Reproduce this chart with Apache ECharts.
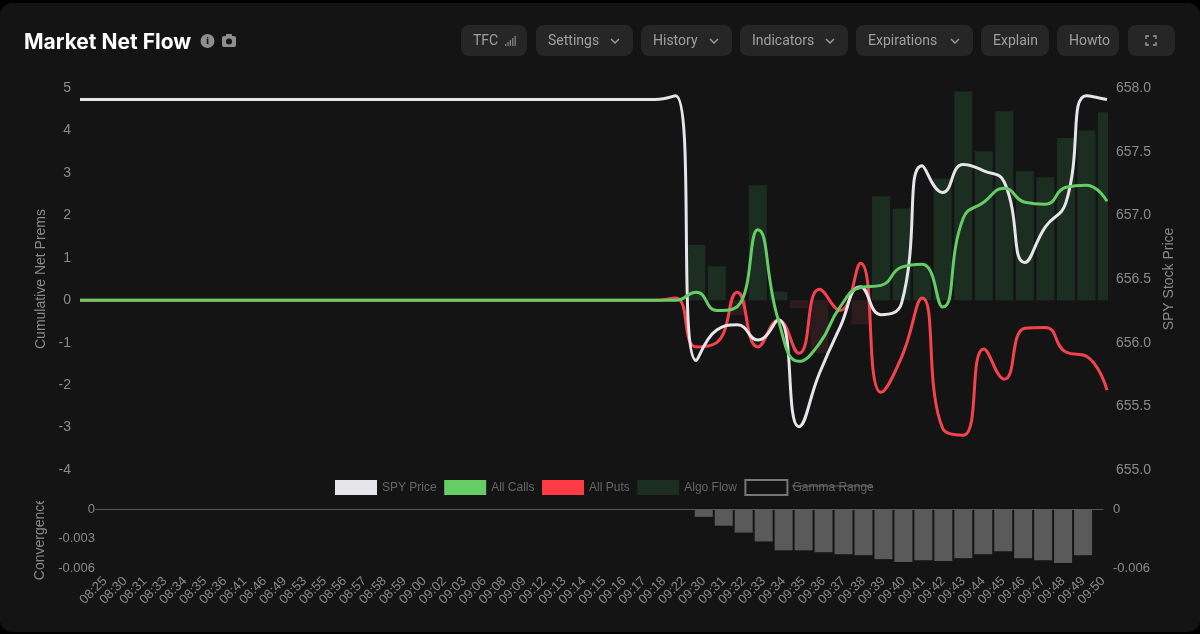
<!DOCTYPE html>
<html>
<head>
<meta charset="utf-8">
<title>Market Net Flow</title>
<script src="https://cdn.jsdelivr.net/npm/echarts@6/dist/echarts.min.js"></script>
<style>
  html, body { margin: 0; padding: 0; background: #000; }
  #card { position: absolute; left: 0; top: 3px; width: 1200px; height: 629px; background: #141414; border-radius: 12px; }
  #chart { position: absolute; left: 0; top: 0; width: 1200px; height: 634px; }
</style>
</head>
<body>
<div id="card"></div>
<div id="chart"></div>
<script>
var times = ['08:25', '08:30', '08:31', '08:33', '08:34', '08:35', '08:36', '08:41', '08:46', '08:49',
  '08:53', '08:55', '08:56', '08:57', '08:58', '08:59', '09:00', '09:02', '09:03', '09:06',
  '09:08', '09:09', '09:12', '09:13', '09:14', '09:15', '09:16', '09:17', '09:18', '09:22',
  '09:30', '09:31', '09:32', '09:33', '09:34', '09:35', '09:36', '09:37', '09:38', '09:39',
  '09:40', '09:41', '09:42', '09:43', '09:44', '09:45', '09:46', '09:47', '09:48', '09:49', '09:50'];

var spyPrice = [657.91, 657.91, 657.91, 657.91, 657.91, 657.91, 657.91, 657.91, 657.91, 657.91,
  657.91, 657.91, 657.91, 657.91, 657.91, 657.91, 657.91, 657.91, 657.91, 657.91,
  657.91, 657.91, 657.91, 657.91, 657.91, 657.91, 657.91, 657.91, 657.91, 657.94,
  655.86, 656.1, 656.14, 656.02, 656.18, 655.34, 655.76, 656.12, 656.44, 656.22,
  656.31, 657.39, 657.18, 657.40, 657.35, 657.26, 656.63, 656.91, 657.10, 657.94, 657.91];

var allCalls = [0, 0, 0, 0, 0, 0, 0, 0, 0, 0,
  0, 0, 0, 0, 0, 0, 0, 0, 0, 0,
  0, 0, 0, 0, 0, 0, 0, 0, 0, 0,
  0.19, -0.24, -0.15, 1.66, -0.47, -1.44, -1.02, -0.16, 0.3, 0.35,
  0.78, 0.85, -0.16, 1.93, 2.31, 2.64, 2.31, 2.26, 2.66, 2.71, 2.33];

var allPuts = [0, 0, 0, 0, 0, 0, 0, 0, 0, 0,
  0, 0, 0, 0, 0, 0, 0, 0, 0, 0,
  0, 0, 0, 0, 0, 0, 0, 0, 0, 0.05,
  -1.1, -1.0, 0.19, -1.1, -0.47, -1.25, 0.26, -0.24, 0.87, -2.17,
  -1.34, 0.05, -3.02, -3.18, -1.15, -1.86, -0.66, -0.64, -1.22, -1.32, -2.12];

var algoFlow = [0, 0, 0, 0, 0, 0, 0, 0, 0, 0,
  0, 0, 0, 0, 0, 0, 0, 0, 0, 0,
  0, 0, 0, 0, 0, 0, 0, 0, 0, 0,
  1.3, 0.8, -0.35, 2.71, 0.2, -0.19, -1.25, 0, -0.57, 2.45,
  2.16, 0.8, 2.87, 4.92, 3.51, 4.45, 3.04, 2.9, 3.82, 4.0, 4.43];

var convergence = [null, null, null, null, null, null, null, null, null, null,
  null, null, null, null, null, null, null, null, null, null,
  null, null, null, null, null, null, null, null, null, null,
  -0.0008, -0.0017, -0.0024, -0.0033, -0.0042, -0.0042, -0.0044, -0.0046, -0.0047, -0.0051,
  -0.0054, -0.0052, -0.0053, -0.005, -0.0046, -0.0043, -0.005, -0.0052, -0.0055, -0.0047, null];

var buttons = [
  { label: 'TFC', x: 461, w: 66 },
  { label: 'Settings', x: 536, w: 97, chevron: true },
  { label: 'History', x: 641, w: 91, chevron: true },
  { label: 'Indicators', x: 740, w: 108, chevron: true },
  { label: 'Expirations', x: 856, w: 117, chevron: true },
  { label: 'Explain', x: 981, w: 68 },
  { label: 'Howto', x: 1057, w: 62 }
];

var labelColor = '#8a8a8a';
var cardColor = '#141414';
var fontFamily = '"Liberation Sans", Arial, sans-serif';

function toolbar() {
  var items = [];
  buttons.forEach(function (b) {
    items.push({ type: 'rect', shape: { x: b.x, y: 25, width: b.w, height: 31, r: 8 }, style: { fill: '#262626' } });
    items.push({
      type: 'text', x: b.x + 12, y: 41.5,
      style: { text: b.label, fill: '#a0a0a0', font: '14px Roboto', verticalAlign: 'middle' }
    });
    if (b.chevron) {
      var cx = b.x + b.w - 18;
      items.push({
        type: 'polyline', shape: { points: [[cx - 4, 39], [cx, 43], [cx + 4, 39]] },
        style: { stroke: '#a0a0a0', lineWidth: 1.4, fill: null }
      });
    }
  });
  // full screen button
  items.push({ type: 'rect', shape: { x: 1128, y: 25, width: 47, height: 31, r: 8 }, style: { fill: '#262626' } });
  [[1146, 39, 1146, 36, 1149, 36], [1153, 36, 1156, 36, 1156, 39], [1156, 42, 1156, 45, 1153, 45], [1149, 45, 1146, 45, 1146, 42]].forEach(function (p) {
    items.push({
      type: 'polyline', shape: { points: [[p[0], p[1]], [p[2], p[3]], [p[4], p[5]]] },
      style: { stroke: '#a0a0a0', lineWidth: 1.3, fill: null }
    });
  });
  // TFC signal bars
  [2, 4, 6, 8, 10].forEach(function (h, i) {
    items.push({ type: 'rect', shape: { x: 505 + i * 2.4, y: 46 - h, width: 1.2, height: h }, style: { fill: '#8a8a8a' } });
  });
  // info + camera icons next to title
  items.push({ type: 'circle', shape: { cx: 207.5, cy: 41, r: 7 }, style: { fill: '#8e8e8e' } });
  items.push({
    type: 'text', x: 207.5, y: 41.5,
    style: { text: 'i', fill: '#141414', font: 'bold 11px "Liberation Serif"', align: 'center', verticalAlign: 'middle' }
  });
  items.push({ type: 'rect', shape: { x: 222, y: 36, width: 14, height: 11, r: 2 }, style: { fill: '#8e8e8e' } });
  items.push({ type: 'rect', shape: { x: 226, y: 34, width: 6, height: 3, r: 1 }, style: { fill: '#8e8e8e' } });
  items.push({ type: 'circle', shape: { cx: 229, cy: 41.5, r: 3 }, style: { fill: '#141414' } });
  // zero tick of the convergence axis
  items.push({ type: 'line', shape: { x1: 95, y1: 509.5, x2: 105, y2: 509.5 }, style: { stroke: '#555', lineWidth: 1 } });
  // struck through legend label
  items.push({ type: 'line', shape: { x1: 792, y1: 486, x2: 873, y2: 486 }, style: { stroke: '#6a6a6a', lineWidth: 1 } });
  // last bar is cut at the grid edge, the name of the lower axis at the top
  items.push({ type: 'rect', z: 100, shape: { x: 1108, y: 88, width: 8, height: 213 }, style: { fill: cardColor } });
  items.push({ type: 'rect', z: 100, shape: { x: 30, y: 488, width: 20, height: 13 }, style: { fill: cardColor } });
  return items;
}

var chart = echarts.init(document.getElementById('chart'), null, { width: 1200, height: 634 });

var option = {
  backgroundColor: 'transparent',
  animation: false,
  textStyle: { fontFamily: fontFamily },
  title: {
    text: 'Market Net Flow',
    left: 19,
    top: 27,
    textStyle: { color: '#fff', fontFamily: 'Inter', fontWeight: 700, fontSize: 21 }
  },
  graphic: toolbar(),
  legend: {
    left: 330,
    top: 474,
    itemWidth: 42,
    itemHeight: 15,
    itemGap: 7.5,
    textStyle: { color: '#666', fontSize: 12 },
    data: [
      { name: 'SPY Price', icon: 'rect', itemStyle: { color: '#e5e5ea' } },
      { name: 'All Calls', icon: 'rect', itemStyle: { color: '#66cc66' } },
      { name: 'All Puts', icon: 'rect', itemStyle: { color: '#ff3b46' } },
      { name: 'Algo Flow', icon: 'rect', itemStyle: { color: '#1c2d22' } },
      { name: 'Gamma Range', icon: 'rect', itemStyle: { color: 'transparent', borderColor: '#777', borderWidth: 2 } }
    ]
  },
  grid: [
    { left: 80, right: 93, top: 88, height: 382 },
    { left: 105, right: 97, top: 509, height: 59 }
  ],
  xAxis: [
    { type: 'category', gridIndex: 0, data: times, boundaryGap: false, show: false },
    {
      type: 'category', gridIndex: 1, data: times, boundaryGap: false,
      axisLine: { show: false, onZero: false },
      axisTick: { show: false },
      axisLabel: { interval: 0, rotate: 45, color: labelColor, fontSize: 13, margin: 11 }
    },
    {
      type: 'category', gridIndex: 1, data: times, boundaryGap: false, position: 'top',
      axisLine: { show: true, onZero: false, lineStyle: { color: '#555', width: 1 } },
      axisTick: { show: false },
      axisLabel: { show: false }
    }
  ],
  yAxis: [
    {
      type: 'value', gridIndex: 0, min: -4, max: 5, interval: 1,
      name: 'Cumulative Net Prems', nameLocation: 'middle', nameGap: 32,
      nameTextStyle: { color: labelColor, fontSize: 14 },
      axisLine: { show: false }, axisTick: { show: false }, splitLine: { show: false },
      axisLabel: { color: labelColor, fontSize: 14, margin: 9 }
    },
    {
      type: 'value', gridIndex: 0, min: 655, max: 658, interval: 0.5, position: 'right',
      name: 'SPY Stock Price', nameLocation: 'middle', nameGap: 53,
      nameTextStyle: { color: labelColor, fontSize: 14 },
      axisLine: { show: false }, axisTick: { show: false }, splitLine: { show: false },
      axisLabel: {
        color: labelColor, fontSize: 14, margin: 9,
        formatter: function (v) { return v.toFixed(1); }
      }
    },
    {
      type: 'value', gridIndex: 1, min: -0.006, max: 0, interval: 0.003,
      name: 'Convergence', nameLocation: 'middle', nameGap: 53,
      nameTextStyle: { color: labelColor, fontSize: 14 },
      axisLine: { show: false }, axisTick: { show: false }, splitLine: { show: false },
      axisLabel: { color: labelColor, fontSize: 13, margin: 10 }
    },
    {
      type: 'value', gridIndex: 1, min: -0.006, max: 0, interval: 0.006, position: 'right',
      axisLine: { show: false }, axisTick: { show: false }, splitLine: { show: false },
      axisLabel: { color: labelColor, fontSize: 13, margin: 10 }
    }
  ],
  series: [
    {
      name: 'Algo Flow', type: 'bar', xAxisIndex: 0, yAxisIndex: 0, barWidth: 18, z: 1,
      data: algoFlow.map(function (v) {
        return { value: v, itemStyle: { color: v < 0 ? '#2c1c1d' : '#1c2d22' } };
      })
    },
    {
      name: 'Gamma Range', type: 'line', xAxisIndex: 0, yAxisIndex: 0, data: [],
      itemStyle: { color: 'transparent' }
    },
    {
      name: 'All Puts', type: 'line', xAxisIndex: 0, yAxisIndex: 0, data: allPuts, smooth: true,
      showSymbol: false, z: 3, itemStyle: { color: '#f5424d' }, lineStyle: { color: '#f5424d', width: 3 }
    },
    {
      name: 'SPY Price', type: 'line', xAxisIndex: 0, yAxisIndex: 1, data: spyPrice, smooth: true,
      showSymbol: false, z: 4, itemStyle: { color: '#e5e5ea' }, lineStyle: { color: '#e5e5ea', width: 3 }
    },
    {
      name: 'All Calls', type: 'line', xAxisIndex: 0, yAxisIndex: 0, data: allCalls, smooth: true,
      showSymbol: false, z: 5, itemStyle: { color: '#66cc66' }, lineStyle: { color: '#66cc66', width: 3 }
    },
    {
      name: 'Convergence', type: 'bar', xAxisIndex: 1, yAxisIndex: 2, barWidth: 18,
      data: convergence, itemStyle: { color: '#5a5a5a' }
    }
  ]
};

chart.setOption(option);
</script>
</body>
</html>
